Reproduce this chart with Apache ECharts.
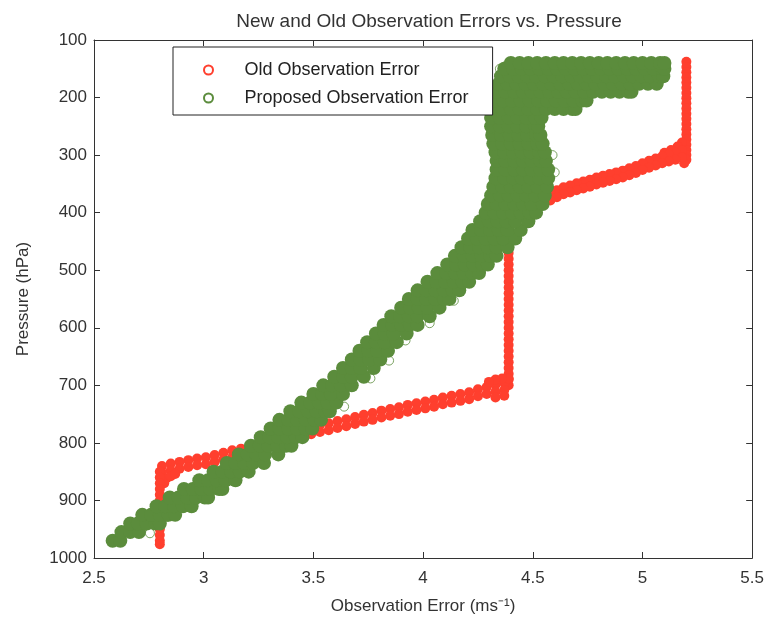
<!DOCTYPE html>
<html><head><meta charset="utf-8">
<script src="https://cdn.jsdelivr.net/npm/echarts@6/dist/echarts.min.js"></script>
<style>html,body{margin:0;padding:0;background:#fff}#c{width:767px;height:620px}</style>
</head><body><div id="c"></div>
<script>
const titleText = 'New and Old Observation Errors vs. Pressure';
const xName = 'Observation Error (ms\u207B\u00B9)';
const yName = 'Pressure (hPa)';
const seriesNames = ['Old Observation Error', 'Proposed Observation Error'];

// Old observation error: [error, pressure]
const oldTopVertical = [[5.2,138],[5.2,147],[5.2,156],[5.2,165],[5.2,174],[5.2,183],[5.2,192],[5.2,201],[5.2,210],[5.2,219],[5.2,228],[5.2,237],[5.2,246],[5.2,255],[5.2,264],[5.2,273],[5.2,282],[5.2,291],[5.2,300],[5.2,308],[5.18,278],[5.16,285],[5.13,291],[5.10,296],[5.19,314]];
const oldUpperDiagA = [[5.18,292],[5.15,296],[5.12,299],[5.09,302],[5.06,306],[5.03,310],[5.00,314],[4.97,319],[4.94,323],[4.91,327],[4.88,330],[4.85,333],[4.82,336],[4.79,339],[4.76,343],[4.73,346],[4.70,349],[4.67,353],[4.64,356],[4.61,361],[4.58,367],[4.55,374],[4.52,379],[4.49,382],[4.46,386],[4.43,390],[4.40,394]];
const oldUpperDiagB = [[5.18,304],[5.15,308],[5.12,311],[5.09,314],[5.06,318],[5.03,322],[5.00,326],[4.97,331],[4.94,335],[4.91,339],[4.88,342],[4.85,345],[4.82,348],[4.79,351],[4.76,355],[4.73,358],[4.70,361],[4.67,365],[4.64,368],[4.61,373],[4.58,379],[4.55,386],[4.52,391],[4.49,394],[4.46,398],[4.43,402],[4.40,406]];
const oldMidVertical = [[4.39,400],[4.39,410],[4.39,420],[4.39,430],[4.39,440],[4.39,450],[4.39,460],[4.39,470],[4.39,480],[4.39,490],[4.39,500],[4.39,510],[4.39,520],[4.39,530],[4.39,540],[4.39,550],[4.39,560],[4.39,570],[4.39,580],[4.39,590],[4.39,600],[4.39,610],[4.39,620],[4.39,630],[4.39,640],[4.39,650],[4.39,660],[4.39,670],[4.39,680],[4.39,690],[4.39,700]];
const oldLowerDiagA = [[4.37,696],[4.33,699],[4.29,703],[4.25,707],[4.21,712],[4.17,715],[4.13,718],[4.09,721],[4.05,725],[4.01,728],[3.97,731],[3.93,734],[3.89,738],[3.85,741],[3.81,744],[3.77,748],[3.73,751],[3.69,755],[3.65,759],[3.61,762],[3.57,766],[3.53,769],[3.49,773],[3.45,778],[3.41,783],[3.37,788],[3.33,792],[3.29,797],[3.25,802],[3.21,806],[3.17,810],[3.13,813],[3.09,817],[3.05,821],[3.01,825],[2.97,827],[2.93,830],[2.89,833],[2.85,836],[2.81,840]];
const oldLowerDiagB = [[4.37,708],[4.33,711],[4.29,715],[4.25,719],[4.21,724],[4.17,727],[4.13,730],[4.09,733],[4.05,737],[4.01,740],[3.97,743],[3.93,746],[3.89,750],[3.85,753],[3.81,756],[3.77,760],[3.73,763],[3.69,767],[3.65,771],[3.61,774],[3.57,778],[3.53,781],[3.49,785],[3.45,790],[3.41,795],[3.37,800],[3.33,804],[3.29,809],[3.25,814],[3.21,818],[3.17,822],[3.13,825],[3.09,829],[3.05,833],[3.01,837],[2.97,839],[2.93,842],[2.89,845],[2.85,848],[2.81,852]];
const oldCorners = [[4.39,688],[4.36,688],[4.33,690],[4.30,694],[4.37,718],[4.33,721],[2.83,862],[2.82,870],[2.85,858],[2.87,854]];
const oldLowVertical = [[2.80,850],[2.80,860],[2.80,870],[2.80,880],[2.80,890],[2.80,900],[2.80,910],[2.80,920],[2.80,930],[2.80,940],[2.80,950],[2.80,960],[2.80,970],[2.80,976]];

// Proposed observation error: rows of [pressure, error values...]
const proposedRows = [
[970, 2.585, 2.62],
[955, 2.625, 2.665, 2.705],
[940, 2.665, 2.70, 2.74, 2.78, 2.80],
[925, 2.72, 2.76, 2.80, 2.84, 2.87],
[910, 2.785, 2.825, 2.865, 2.905, 2.945],
[895, 2.845, 2.885, 2.925, 2.965, 3.005, 3.02],
[880, 2.91, 2.95, 2.99, 3.03, 3.07, 3.085],
[865, 2.98, 3.02, 3.06, 3.10, 3.145],
[850, 3.045, 3.085, 3.125, 3.165, 3.205],
[835, 3.105, 3.145, 3.185, 3.225, 3.275],
[820, 3.16, 3.20, 3.24, 3.28, 3.34],
[805, 3.215, 3.255, 3.295, 3.335, 3.375, 3.40],
[790, 3.26, 3.30, 3.34, 3.38, 3.42, 3.45],
[775, 3.305, 3.345, 3.385, 3.425, 3.465, 3.495],
[760, 3.345, 3.385, 3.425, 3.465, 3.505, 3.535],
[745, 3.395, 3.435, 3.475, 3.515, 3.555, 3.575],
[730, 3.445, 3.485, 3.525, 3.565, 3.605],
[715, 3.50, 3.54, 3.58, 3.635],
[700, 3.545, 3.585, 3.625, 3.675],
[685, 3.595, 3.635, 3.675, 3.73],
[670, 3.635, 3.675, 3.715, 3.775],
[655, 3.675, 3.715, 3.755, 3.805],
[640, 3.71, 3.75, 3.79, 3.84],
[625, 3.745, 3.785, 3.825, 3.88],
[610, 3.785, 3.825, 3.865, 3.925],
[595, 3.82, 3.86, 3.90, 3.94, 3.975],
[580, 3.855, 3.895, 3.935, 3.975, 4.03],
[565, 3.90, 3.94, 3.98, 4.02, 4.075],
[550, 3.935, 3.975, 4.015, 4.055, 4.095, 4.12],
[535, 3.975, 4.015, 4.055, 4.095, 4.135, 4.165],
[520, 4.02, 4.06, 4.10, 4.14, 4.18, 4.21],
[505, 4.065, 4.105, 4.145, 4.185, 4.225, 4.255],
[490, 4.11, 4.15, 4.19, 4.23, 4.27, 4.295],
[475, 4.145, 4.185, 4.225, 4.265, 4.305, 4.335],
[460, 4.175, 4.215, 4.255, 4.295, 4.335, 4.385],
[445, 4.205, 4.245, 4.285, 4.325, 4.365, 4.42],
[430, 4.225, 4.265, 4.305, 4.345, 4.385, 4.445],
[415, 4.26, 4.30, 4.34, 4.38, 4.42, 4.48],
[400, 4.285, 4.325, 4.365, 4.405, 4.445, 4.485, 4.515],
[385, 4.295, 4.335, 4.375, 4.415, 4.455, 4.495, 4.545],
[370, 4.31, 4.35, 4.39, 4.43, 4.47, 4.51, 4.555],
[355, 4.32, 4.36, 4.40, 4.44, 4.48, 4.52, 4.565],
[340, 4.33, 4.37, 4.41, 4.45, 4.49, 4.53, 4.57],
[325, 4.335, 4.375, 4.415, 4.455, 4.495, 4.535, 4.57],
[310, 4.335, 4.375, 4.415, 4.455, 4.495, 4.535, 4.56],
[295, 4.33, 4.37, 4.41, 4.45, 4.49, 4.53, 4.555],
[280, 4.32, 4.36, 4.40, 4.44, 4.48, 4.52, 4.545],
[265, 4.315, 4.355, 4.395, 4.435, 4.475, 4.515, 4.535],
[250, 4.31, 4.35, 4.39, 4.43, 4.47, 4.51, 4.525],
[235, 4.31, 4.35, 4.39, 4.43, 4.47, 4.51, 4.54],
[220, 4.32, 4.36, 4.40, 4.44, 4.48, 4.52, 4.56, 4.60, 4.64, 4.68, 4.695],
[205, 4.325, 4.365, 4.405, 4.445, 4.485, 4.525, 4.565, 4.605, 4.645, 4.685, 4.725, 4.745],
[190, 4.335, 4.375, 4.415, 4.455, 4.495, 4.535, 4.575, 4.615, 4.655, 4.695, 4.735, 4.775, 4.815, 4.855, 4.895, 4.935, 4.95],
[176, 4.345, 4.385, 4.425, 4.465, 4.505, 4.545, 4.585, 4.625, 4.665, 4.705, 4.745, 4.785, 4.825, 4.865, 4.905, 4.945, 4.985, 5.025, 5.065],
[163, 4.355, 4.395, 4.435, 4.475, 4.515, 4.555, 4.595, 4.635, 4.675, 4.715, 4.755, 4.795, 4.835, 4.875, 4.915, 4.955, 4.995, 5.035, 5.075, 5.095],
[150, 4.37, 4.41, 4.45, 4.49, 4.53, 4.57, 4.61, 4.65, 4.69, 4.73, 4.77, 4.81, 4.85, 4.89, 4.93, 4.97, 5.01, 5.05, 5.09, 5.10],
[140, 4.40, 4.44, 4.48, 4.52, 4.56, 4.60, 4.64, 4.68, 4.72, 4.76, 4.80, 4.84, 4.88, 4.92, 4.96, 5.00, 5.04, 5.08, 5.10]
];
// scattered hollow circles at the band edges
const proposedStray = [[4.35,150],[4.38,144],[4.42,153],[4.56,147],[4.61,143],[2.755,957],[2.83,929],[3.05,882],[3.27,830],[3.64,737],[3.76,688],[3.845,657],[3.92,622],[4.03,592],[4.14,553],[4.60,330],[4.59,300]];

const oldData = [].concat(oldTopVertical, oldUpperDiagA, oldUpperDiagB, oldMidVertical, oldLowerDiagA, oldLowerDiagB, oldCorners, oldLowVertical);
const proposedData = [];
proposedRows.forEach(r => { for (let i = 1; i < r.length; i++) proposedData.push([r[i], r[0]]); });

const RED = '#ff3f2e', GREEN = '#5b8c3c';
const FONT = 'Liberation Sans';
const axisCommon = {
  type: 'value', axisLine: { show: true, lineStyle: { color: '#333', width: 1 } },
  axisTick: { show: true, inside: true, length: 6, lineStyle: { color: '#333' } },
  splitLine: { show: false }
};
const chart = echarts.init(document.getElementById('c'));
chart.setOption({
  animation: false,
  backgroundColor: '#fff',
  title: { text: titleText, left: 424, textAlign: 'center', top: 7,
    textStyle: { fontFamily: FONT, fontSize: 19, fontWeight: 'normal', color: '#333' } },
  grid: { left: 94, right: 13, top: 40, bottom: 62 },
  legend: {
    orient: 'vertical', left: 173, top: 47,
    padding: [14, 24, 8, 30], itemGap: 10, itemWidth: 62, itemHeight: 9,
    borderColor: '#222', borderWidth: 1, backgroundColor: '#fff',
    textStyle: { fontFamily: FONT, fontSize: 18, color: '#222', lineHeight: 18 },
    data: [{ name: seriesNames[0], icon: 'emptyCircle' }, { name: seriesNames[1], icon: 'emptyCircle' }]
  },
  xAxis: [
    Object.assign({}, axisCommon, { position: 'bottom', min: 2.5, max: 5.5, interval: 0.5,
      axisLabel: { margin: 12, fontFamily: FONT, fontSize: 17, color: '#333' },
      name: xName, nameLocation: 'middle', nameGap: 40,
      nameTextStyle: { fontFamily: FONT, fontSize: 17, color: '#333' } }),
    Object.assign({}, axisCommon, { position: 'top', min: 2.5, max: 5.5, interval: 0.5, axisLabel: { show: false } })
  ],
  yAxis: [
    Object.assign({}, axisCommon, { position: 'left', min: 100, max: 1000, interval: 100, inverse: true,
      axisLabel: { margin: 7, fontFamily: FONT, fontSize: 17, color: '#333', formatter: v => String(v) },
      name: yName, nameLocation: 'middle', nameGap: 62, nameRotate: 90,
      nameTextStyle: { fontFamily: FONT, fontSize: 17, color: '#333' } }),
    Object.assign({}, axisCommon, { position: 'right', min: 100, max: 1000, interval: 100, inverse: true, axisLabel: { show: false } })
  ],
  series: [
    { name: seriesNames[0], type: 'scatter', data: oldData, symbol: 'circle', symbolSize: 10,
      itemStyle: { color: RED, opacity: 1, borderWidth: 0 }, silent: true },
    { name: seriesNames[1], type: 'scatter', data: proposedData, symbol: 'circle', symbolSize: 14,
      itemStyle: { color: GREEN, opacity: 1, borderWidth: 0 }, silent: true },
    { name: 'stray', type: 'scatter', data: proposedStray, symbol: 'circle', symbolSize: 9,
      itemStyle: { color: 'rgba(255,255,255,0)', borderColor: GREEN, borderWidth: 1 }, silent: true }
  ]
});
</script>
</body></html>
